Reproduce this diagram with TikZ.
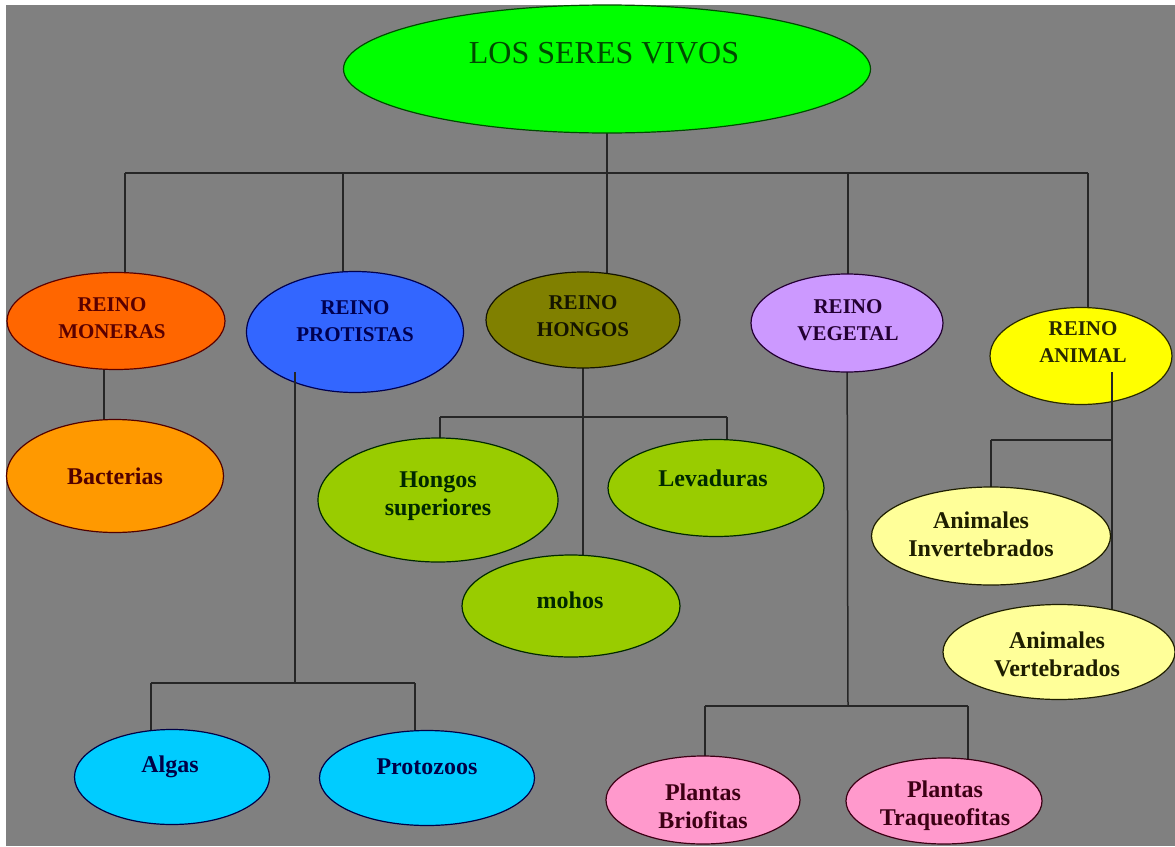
\documentclass[tikz,border=0pt]{standalone}
\usepackage{fontspec}
\setmainfont{Liberation Serif}
\usetikzlibrary{shapes.geometric}
\pgfdeclarelayer{bg}
\pgfdeclarelayer{wires}
\pgfsetlayers{bg,wires,main}
\definecolor{cBg}{RGB}{128,128,128}
\definecolor{cRoot}{RGB}{0,255,0}\definecolor{tRoot}{RGB}{0,75,0}
\definecolor{cMon}{RGB}{255,102,0}\definecolor{tMon}{RGB}{90,0,0}
\definecolor{cPro}{RGB}{51,102,255}\definecolor{tPro}{RGB}{0,0,80}
\definecolor{cHon}{RGB}{128,128,0}\definecolor{tHon}{RGB}{20,20,0}
\definecolor{cVeg}{RGB}{204,153,255}\definecolor{tVeg}{RGB}{35,0,50}
\definecolor{cAni}{RGB}{255,255,0}\definecolor{tAni}{RGB}{40,40,0}
\definecolor{cBac}{RGB}{255,153,0}\definecolor{tBac}{RGB}{80,0,0}
\definecolor{cGrn}{RGB}{153,204,0}\definecolor{tGrn}{RGB}{0,40,0}
\definecolor{cCya}{RGB}{0,204,255}\definecolor{tCya}{RGB}{0,0,70}
\definecolor{cPnk}{RGB}{255,153,204}\definecolor{tPnk}{RGB}{60,0,20}
\definecolor{cLye}{RGB}{255,255,153}\definecolor{tLye}{RGB}{30,30,0}
\begin{document}
\begin{tikzpicture}[x=1pt,y=-1pt,
  oval/.style={ellipse,line width=1.2pt,inner sep=0pt},
  kingdom/.style={align=center,inner sep=0pt,font=\bfseries\fontsize{21}{27}\selectfont},
  leaf/.style={align=center,inner sep=0pt,font=\bfseries\fontsize{24}{28}\selectfont},
  wire/.style={line width=1.5pt,black!85}]
\useasboundingbox (0,0) rectangle (1175,846);
\begin{pgfonlayer}{bg}
\fill[white] (0,0) rectangle (1175,846);
\fill[cBg] (6,5) rectangle (1175,846);
\end{pgfonlayer}

% ellipses
\node[oval,fill=cRoot,draw=tRoot,minimum width=527pt,minimum height=128pt] (root) at (607,69) {};
\node[oval,fill=cMon,draw=tMon,minimum width=218pt,minimum height=97pt] (moneras) at (116,321) {};
\node[oval,fill=cPro,draw=tPro,minimum width=217pt,minimum height=121pt] (protistas) at (355,332) {};
\node[oval,fill=cHon,draw=tHon,minimum width=194pt,minimum height=96pt] (hongos) at (583,320) {};
\node[oval,fill=cVeg,draw=tVeg,minimum width=192pt,minimum height=98pt] (vegetal) at (847,323) {};
\node[oval,fill=cAni,draw=tAni,minimum width=182pt,minimum height=97pt] (animal) at (1081,356) {};
\node[oval,fill=cBac,draw=tBac,minimum width=217pt,minimum height=113pt] (bacterias) at (115,476) {};
\node[oval,fill=cGrn,draw=tGrn,minimum width=240pt,minimum height=124pt] (hsup) at (438,500) {};
\node[oval,fill=cGrn,draw=tGrn,minimum width=216pt,minimum height=97pt] (lev) at (716,488) {};
\node[oval,fill=cGrn,draw=tGrn,minimum width=218pt,minimum height=102pt] (mohos) at (571,606) {};
\node[oval,fill=cCya,draw=tCya,minimum width=195pt,minimum height=95pt] (algas) at (172,777) {};
\node[oval,fill=cCya,draw=tCya,minimum width=215pt,minimum height=95pt] (protozoos) at (427,778) {};
\node[oval,fill=cPnk,draw=tPnk,minimum width=194pt,minimum height=88pt] (brio) at (703,800) {};
\node[oval,fill=cPnk,draw=tPnk,minimum width=196pt,minimum height=86pt] (traq) at (944,801) {};
\node[oval,fill=cLye,draw=tLye,minimum width=239pt,minimum height=98pt] (inver) at (991,536) {};
\node[oval,fill=cLye,draw=tLye,minimum width=232pt,minimum height=95pt] (verte) at (1059,652) {};

% labels
\node[inner sep=0pt,text=tRoot,font=\fontsize{32}{36}\selectfont] (rootT) at (604,53) {LOS SERES VIVOS};
\node[kingdom,text=tMon] (monerasT) at (112,318) {REINO\\MONERAS};
\node[kingdom,text=tPro] (protistasT) at (355,321) {REINO\\PROTISTAS};
\node[kingdom,text=tHon] (hongosT) at (583,316) {REINO\\HONGOS};
\node[kingdom,text=tVeg] (vegetalT) at (848,320) {REINO\\VEGETAL};
\node[kingdom,text=tAni] (animalT) at (1083,342) {REINO\\ANIMAL};
\node[leaf,text=tBac] (bacteriasT) at (115,476) {Bacterias};
\node[leaf,text=tGrn] (hsupT) at (438,496) {Hongos\\superiores};
\node[leaf,text=tGrn] (levT) at (713,478) {Levaduras};
\node[leaf,text=tGrn] (mohosT) at (570,600) {mohos};
\node[leaf,text=tCya] (algasT) at (170,767) {Algas};
\node[leaf,text=tCya] (protozoosT) at (427,767) {Protozoos};
\node[leaf,text=tPnk] (brioT) at (703,806) {Plantas\\Briofitas};
\node[leaf,text=tPnk] (traqT) at (945,806) {Plantas\\Traqueofitas};
\node[leaf,text=tLye] (inverT) at (981,534) {Animales\\Invertebrados};
\node[leaf,text=tLye] (verteT) at (1057,654) {Animales\\Vertebrados};

% junction coordinates
\coordinate (bus) at (607,173);
\coordinate (bL) at (125,173);
\coordinate (bP) at (343,173);
\coordinate (bV) at (848,173);
\coordinate (bR) at (1088,173);
\coordinate (jMB) at (104,330);
\coordinate (pTop) at (295,372);
\coordinate (pBus) at (295,683);
\coordinate (pL) at (151,683);
\coordinate (pR) at (415,683);
\coordinate (hL) at (440,417);
\coordinate (hR) at (727,417);
\coordinate (hV) at (583,320);
\coordinate (vBus) at (848,706);
\coordinate (vL) at (705,706);
\coordinate (vR) at (968,706);
\coordinate (aTop) at (1112,372);
\coordinate (aBus) at (1112,440);
\coordinate (aL) at (991,440);

\begin{pgfonlayer}{wires}
\draw[wire] (root.center) -- (bus);
\draw[wire] (bL) -- (bR);
\draw[wire] (bL) -- (bL |- moneras.center);
\draw[wire] (bP) -- (bP |- protistas.center);
\draw[wire] (bus) -- (bus |- hongos.center);
\draw[wire] (bV) -- (bV |- vegetal.center);
\draw[wire] (bR) -- (bR |- animal.center);
\draw[wire] (jMB) -- (jMB |- bacterias.center);
\draw[wire] (pL) -- (pR);
\draw[wire] (pL) -- (pL |- algas.center);
\draw[wire] (pR) -- (pR |- protozoos.center);
\draw[wire] (hV) -- (hV |- mohos.center);
\draw[wire] (hL) -- (hR);
\draw[wire] (hL) -- (hL |- hsup.center);
\draw[wire] (hR) -- (hR |- lev.center);
\draw[wire] (vegetal.center) -- (vBus);
\draw[wire] (vL) -- (vR);
\draw[wire] (vL) -- (vL |- brio.center);
\draw[wire] (vR) -- (vR |- traq.center);
\draw[wire] (aTop) -- (aTop |- verte.center);
\draw[wire] (aL) -- (aBus);
\draw[wire] (aL) -- (aL |- inver.center);
\end{pgfonlayer}
% segments visible over their ellipses
\draw[wire] (pTop) -- (pBus);
\draw[wire] (aTop) -- (aTop |- animal.south);
\end{tikzpicture}
\end{document}
